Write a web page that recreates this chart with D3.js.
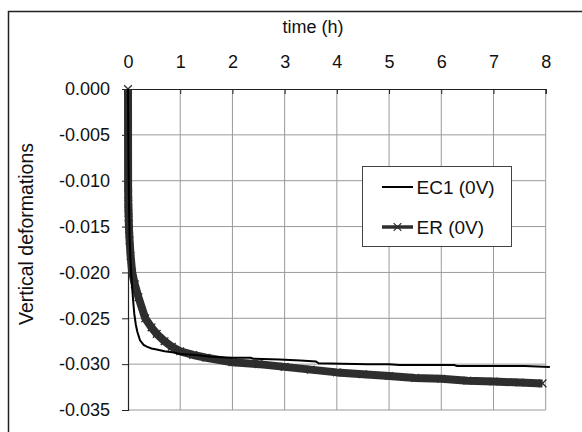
<!DOCTYPE html>
<html>
<head>
<meta charset="utf-8">
<script src="https://cdn.jsdelivr.net/npm/d3@7"></script>
<style>
  body { margin: 0; background: #fff; }
  text { font-family: "Liberation Sans", Arial, sans-serif; fill: #111; }
</style>
</head>
<body>
<svg id="chart" width="582" height="432"></svg>
<script>
// ---------------- data ----------------
var xTicks = [0, 1, 2, 3, 4, 5, 6, 7, 8];
var yTicks = [0, -0.005, -0.010, -0.015, -0.020, -0.025, -0.030, -0.035];
var yTickLabels = ["0.000", "-0.005", "-0.010", "-0.015", "-0.020", "-0.025", "-0.030", "-0.035"];

var ec1Time = [0, 0.01, 0.02, 0.03, 0.05, 0.07, 0.1, 0.12, 0.15, 0.18, 0.23, 0.3, 0.36, 0.45, 0.55, 0.7, 0.85, 1.0,
               1.3, 1.6, 2.0, 2.35, 2.4, 2.9, 3.3, 3.6, 3.65, 4.1, 4.6, 5.0, 5.2, 5.9, 6.25, 6.3, 7.0, 7.6, 8.08];
var ec1Def  = [0, -0.008, -0.013, -0.016, -0.019, -0.0209, -0.0232, -0.0245, -0.0257, -0.0265, -0.0274, -0.0279, -0.0281, -0.0283, -0.0284, -0.0286, -0.0287, -0.0289,
               -0.0290, -0.0292, -0.0293, -0.0293, -0.0294, -0.0295, -0.0296, -0.0297, -0.0299, -0.02995, -0.0300, -0.0300, -0.0301, -0.0301, -0.0301, -0.0302, -0.0302, -0.0302, -0.0303];

var erTime = [0, 0.002, 0.004, 0.006, 0.008, 0.01, 0.013, 0.016, 0.02, 0.03, 0.05, 0.08, 0.13, 0.2, 0.33, 0.45, 0.55, 0.7, 0.84, 1.0,
              1.25, 1.5, 2.0, 2.5, 3.0, 3.5, 4.0, 4.5, 5.0, 5.5, 6.0, 6.5, 7.0, 7.5, 7.94];
var erDef  = [0, -0.0105, -0.0115, -0.0125, -0.013, -0.0135, -0.014, -0.0147, -0.0153, -0.0165, -0.0182, -0.0200, -0.0213, -0.0227, -0.0250, -0.0260, -0.0267, -0.0275, -0.0281, -0.0286,
              -0.0290, -0.0293, -0.0298, -0.0300, -0.0303, -0.0306, -0.0309, -0.0311, -0.0313, -0.0315, -0.0316, -0.0318, -0.0319, -0.0320, -0.0321];

var seriesNames = ["EC1 (0V)", "ER (0V)"];

// ---------------- layout ----------------
var svg = d3.select("#chart");
var plotL = 128, plotR = 545.7, plotT = 89, plotB = 410;

var x = d3.scaleLinear().domain([0, 8]).range([plotL, plotR]);
var y = d3.scaleLinear().domain([-0.035, 0]).range([plotB, plotT]);

// outer frame (runs off the right and bottom of the picture)
svg.append("rect")
  .attr("x", 8.5).attr("y", 11.5)
  .attr("width", 620).attr("height", 460)
  .attr("fill", "none").attr("stroke", "#222").attr("stroke-width", 1.5);

// grid
svg.append("g").selectAll("line")
  .data(xTicks.slice(1))
  .enter().append("line")
  .attr("x1", function(d) { return x(d); }).attr("x2", function(d) { return x(d); })
  .attr("y1", plotT).attr("y2", plotB)
  .attr("stroke", "#9a9a9a").attr("stroke-width", 1);

svg.append("g").selectAll("line")
  .data(yTicks.slice(1))
  .enter().append("line")
  .attr("x1", plotL).attr("x2", plotR)
  .attr("y1", function(d) { return y(d); }).attr("y2", function(d) { return y(d); })
  .attr("stroke", "#9a9a9a").attr("stroke-width", 1);

// top axis (time)
var xAxis = svg.append("g")
  .attr("transform", "translate(0," + plotT + ")")
  .call(d3.axisTop(x).tickValues(xTicks).tickSize(-5).tickPadding(21).tickFormat(d3.format("d")));
xAxis.select(".domain").attr("stroke", "#222").attr("stroke-width", 1.2);
xAxis.selectAll(".tick line").attr("stroke", "#222");
xAxis.selectAll("text").style("font-size", "18px").attr("fill", "#111");

// left axis
var yAxis = svg.append("g")
  .attr("transform", "translate(" + plotL + ",0)")
  .call(d3.axisLeft(y).tickValues(yTicks).tickSize(6).tickPadding(12)
    .tickFormat(function(d, i) { return yTickLabels[i]; }));
yAxis.select(".domain").attr("stroke", "#222").attr("stroke-width", 1.2);
yAxis.selectAll(".tick line").attr("stroke", "#222");
yAxis.selectAll("text").style("font-size", "18px").attr("fill", "#111");

// titles
svg.append("text")
  .attr("x", 313).attr("y", 33)
  .attr("text-anchor", "middle")
  .style("font-size", "18px")
  .text("time (h)");

svg.append("text")
  .attr("transform", "translate(33,234) rotate(-90)")
  .attr("text-anchor", "middle")
  .style("font-size", "19.5px")
  .text("Vertical deformations");

// ---------------- series ----------------
var ec1 = ec1Time.map(function(t, i) { return [t, ec1Def[i]]; });
var er = erTime.map(function(t, i) { return [t, erDef[i]]; });

var line = d3.line()
  .x(function(d) { return x(d[0]); })
  .y(function(d) { return y(d[1]); });

svg.append("path")
  .datum(er)
  .attr("d", line)
  .attr("fill", "none")
  .attr("stroke", "#2e2e2e")
  .attr("stroke-width", 8)
  .attr("stroke-linejoin", "round");

var cross = d3.symbol().type(d3.symbolX).size(40);
svg.append("g").selectAll("path")
  .data(er)
  .enter().append("path")
  .attr("transform", function(d) { return "translate(" + x(d[0]) + "," + y(d[1]) + ")"; })
  .attr("d", cross)
  .attr("fill", "none")
  .attr("stroke", "#2e2e2e")
  .attr("stroke-width", 1.3);

svg.append("path")
  .datum(ec1)
  .attr("d", line)
  .attr("fill", "none")
  .attr("stroke", "#000")
  .attr("stroke-width", 2);

// ---------------- legend ----------------
var legend = svg.append("g");
legend.append("rect")
  .attr("x", 362.5).attr("y", 166.5)
  .attr("width", 149).attr("height", 80)
  .attr("fill", "#fff").attr("stroke", "#444").attr("stroke-width", 1);

var legendRows = legend.selectAll("g.row")
  .data(seriesNames)
  .enter().append("g")
  .attr("class", "row")
  .attr("transform", function(d, i) { return "translate(0," + (187 + i * 40) + ")"; });

legendRows.append("line")
  .attr("x1", 382).attr("x2", 413)
  .attr("y1", 0).attr("y2", 0)
  .attr("stroke", function(d, i) { return i == 0 ? "#000" : "#2e2e2e"; })
  .attr("stroke-width", function(d, i) { return i == 0 ? 2 : 3.5; });

legendRows.filter(function(d, i) { return i == 1; })
  .append("path")
  .attr("transform", "translate(397.5,0)")
  .attr("d", cross)
  .attr("fill", "none")
  .attr("stroke", "#2e2e2e")
  .attr("stroke-width", 1.2);

legendRows.append("text")
  .attr("x", 416.5).attr("y", 6.5)
  .style("font-size", "19px")
  .text(function(d) { return d; });
</script>
</body>
</html>
